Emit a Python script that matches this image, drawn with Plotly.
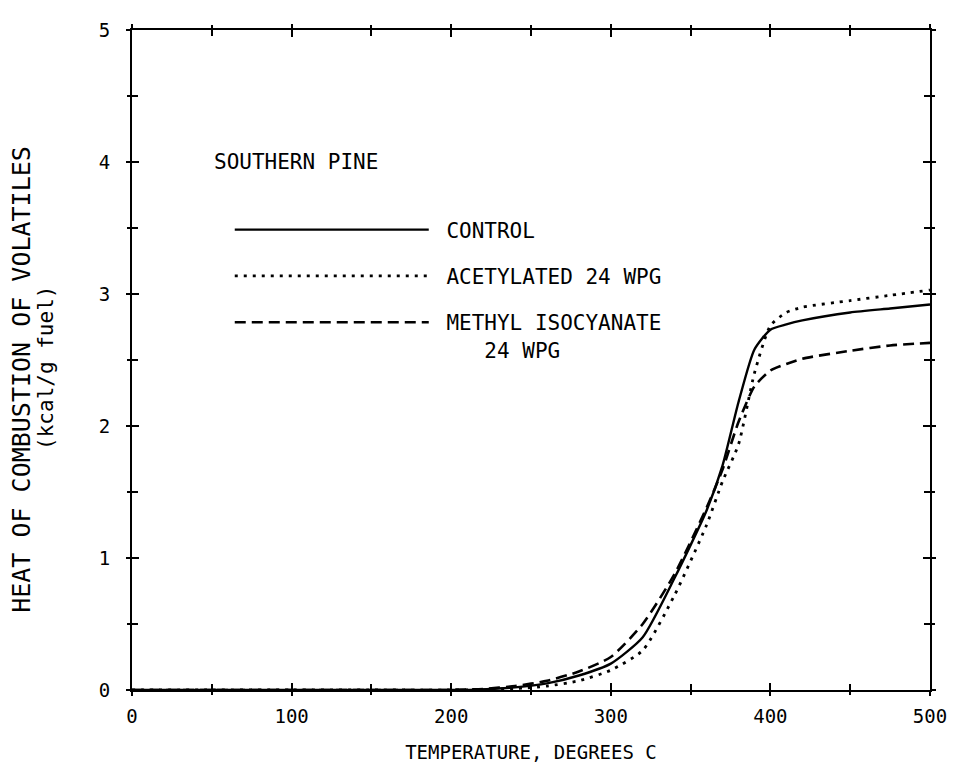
import plotly.graph_objects as go

# Temperature (degrees C)
temp = [0, 50, 100, 150, 200, 220, 240, 260, 280, 300, 320, 340, 360, 370, 380, 390, 400, 410, 420, 450, 475, 500]

# Heat of combustion of volatiles (kcal/g fuel)
control = [0, 0, 0, 0, 0, 0.005, 0.02, 0.05, 0.11, 0.20, 0.40, 0.85, 1.36, 1.70, 2.18, 2.58, 2.73, 2.77, 2.80, 2.86, 2.89, 2.92]
acetylated = [0, 0, 0, 0, 0, 0.003, 0.01, 0.03, 0.07, 0.15, 0.30, 0.72, 1.25, 1.58, 1.86, 2.40, 2.76, 2.86, 2.90, 2.95, 2.99, 3.03]
methyl_iso = [0, 0, 0, 0, 0, 0.008, 0.03, 0.07, 0.14, 0.25, 0.50, 0.88, 1.38, 1.67, 2.03, 2.30, 2.42, 2.47, 2.51, 2.57, 2.61, 2.63]

NB = "\u00a0"
names = [NB + "CONTROL", NB + "ACETYLATED 24 WPG", NB + "METHYL ISOCYANATE<br>" + NB * 4 + "24 WPG"]
series = [control, acetylated, methyl_iso]
dashes = ["solid", "3px,6px", "11px,6px"]
widths = [2.4, 2.8, 2.6]

x_ticks = [0, 100, 200, 300, 400, 500]
y_ticks = [0, 1, 2, 3, 4, 5]
x_ticktext = ["0", "100", "200", "300", "400", "500"]

MONO = "DejaVu Sans Mono"

fig = go.Figure()
for i, (nm, ys, ds, w) in enumerate(zip(names, series, dashes, widths)):
    fig.add_trace(go.Scatter(
        x=temp, y=ys, mode="lines", name=nm, legendgroup=f"g{i}",
        line=dict(color="black", width=w, dash=ds, shape="spline", smoothing=0.6),
    ))

# invisible trace on overlay axes so the outer half of the crossing ticks shows
fig.add_trace(go.Scatter(x=[0, 500], y=[0, 5], xaxis="x2", yaxis="y2", mode="markers",
                         marker=dict(opacity=0), showlegend=False, hoverinfo="skip"))

axis_common = dict(showgrid=False, zeroline=False, linecolor="black", linewidth=2,
                   tickcolor="black", tickwidth=2, automargin=False)

fig.update_layout(
    width=947, height=759,
    margin=dict(l=124, r=25, t=22, b=77),
    plot_bgcolor="white", paper_bgcolor="white",
    xaxis=dict(range=[0, 500], tickvals=x_ticks, ticktext=x_ticktext, ticks="inside", ticklen=7,
               mirror="ticks", showline=True, ticklabelstandoff=8,
               minor=dict(dtick=50, tick0=0, ticks="inside", ticklen=6, tickcolor="black", tickwidth=1.5),
               tickfont=dict(family=MONO, size=19, color="black"),
               title=dict(text="TEMPERATURE, DEGREES C", font=dict(family=MONO, size=19, color="black"), standoff=20),
               **axis_common),
    yaxis=dict(range=[0, 5], tickvals=y_ticks, ticks="inside", ticklen=7,
               mirror="ticks", showline=True, ticklabelstandoff=16,
               minor=dict(dtick=0.5, tick0=0, ticks="inside", ticklen=6, tickcolor="black", tickwidth=1.5),
               tickfont=dict(family=MONO, size=19, color="black"),
               **axis_common),
    xaxis2=dict(range=[0, 500], overlaying="x", tickvals=x_ticks, showticklabels=False, ticks="outside", ticklen=5,
                mirror="ticks", showline=False,
                minor=dict(dtick=50, tick0=0, ticks="outside", ticklen=4, tickcolor="black", tickwidth=1.5),
                **axis_common),
    yaxis2=dict(range=[0, 5], overlaying="y", tickvals=y_ticks, showticklabels=False, ticks="outside", ticklen=5,
                mirror="ticks", showline=False,
                minor=dict(dtick=0.5, tick0=0, ticks="outside", ticklen=4, tickcolor="black", tickwidth=1.5),
                **axis_common),
    legend=dict(x=0.1225, y=0.728, xanchor="left", yanchor="top", bgcolor="rgba(0,0,0,0)",
                font=dict(family=MONO, size=21, color="black"), itemwidth=194,
                traceorder="grouped", tracegroupgap=16, valign="top"),
    annotations=[
        dict(text="SOUTHERN PINE", xref="paper", yref="paper", x=0.10, y=0.80, xanchor="left", yanchor="middle",
             showarrow=False, font=dict(family=MONO, size=21, color="black")),
        dict(text="HEAT OF COMBUSTION OF VOLATILES", xref="paper", yref="paper", x=0, y=0.47, xshift=-110,
             textangle=-90, xanchor="center", yanchor="middle", showarrow=False,
             font=dict(family=MONO, size=25, color="black")),
        dict(text="(kcal/g fuel)", xref="paper", yref="paper", x=0, y=0.488, xshift=-86, textangle=-90,
             xanchor="center", yanchor="middle", showarrow=False, font=dict(family=MONO, size=21, color="black")),
    ],
    showlegend=True,
)

fig.write_html("out.html")
